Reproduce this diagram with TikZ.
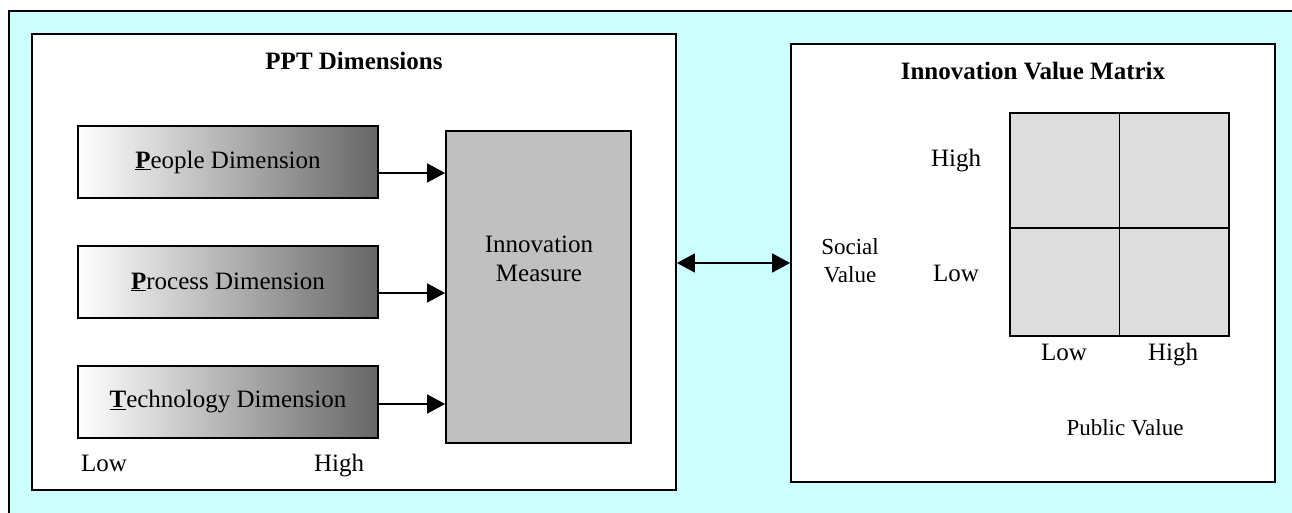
\documentclass[tikz,border=0pt]{standalone}
\usepackage{fontspec}
\setmainfont{Liberation Serif}
\usetikzlibrary{arrows.meta}
\definecolor{bgcyan}{RGB}{204,255,255}
\definecolor{measuregray}{RGB}{192,192,192}
\definecolor{cellgray}{RGB}{221,221,221}
\definecolor{graddark}{RGB}{102,102,102}
\tikzset{
  frame/.style={draw=black, line width=1.8pt, fill=white},
  dimbox/.style={draw=black, line width=1.8pt, left color=white, right color=graddark,
    minimum width=300pt, minimum height=72pt, inner sep=0pt,
    font=\fontsize{25}{29}\selectfont},
  cell/.style={draw=black, line width=1.8pt, fill=cellgray},
  lbl/.style={inner sep=0pt, text height=17pt, text depth=5pt, font=\fontsize{25}{29}\selectfont},
  mlbl/.style={inner sep=0pt, align=center, font=\fontsize{25}{29}\selectfont},
  slbl/.style={inner sep=0pt, align=center, font=\fontsize{23}{28}\selectfont},
  ttl/.style={inner sep=0pt, text height=17pt, text depth=5pt, font=\fontsize{25}{29}\selectfont\bfseries},
  arr/.style={line width=1.6pt, -{Triangle[length=18pt,width=19pt]}},
  darr/.style={line width=1.6pt, {Triangle[length=18pt,width=19pt]}-{Triangle[length=18pt,width=19pt]}},
}
\newcommand{\ul}[1]{\underline{\textbf{#1}}}
\begin{document}
\begin{tikzpicture}[x=1pt,y=-1pt]
\useasboundingbox (0,0) rectangle (1292,513);
% outer background
\fill[bgcyan] (9,11) rectangle (1292,513);
\draw[line width=1.8pt] (9,513) -- (9,11) -- (1292,11);
% left panel
\node[frame, minimum width=644pt, minimum height=456pt, inner sep=0pt] (left) at (354,262) {};
\node[ttl] (ppt) at (354,64) {PPT Dimensions};
\node[dimbox] (people) at (228,162) {\ul{P}eople Dimension};
\node[dimbox] (process) at (228,282) {\ul{P}rocess Dimension};
\node[dimbox] (tech) at (228,402) {\ul{T}echnology Dimension};
\node[draw=black, line width=1.8pt, fill=measuregray, minimum width=185pt, minimum height=312pt, inner sep=0pt] (measure) at (538.5,287) {};
\node[mlbl] (measuretxt) at (539,259) {Innovation\\Measure};
\node[lbl] (low1) at (104,465) {Low};
\node[lbl] (high1) at (339,465) {High};
\draw[arr] ([yshift=-11pt]people.east) -- ([yshift=-11pt]people.east -| measure.west);
\draw[arr] ([yshift=-11pt]process.east) -- ([yshift=-11pt]process.east -| measure.west);
\draw[arr] ([yshift=-2pt]tech.east) -- ([yshift=-2pt]tech.east -| measure.west);
% right panel
\node[frame, minimum width=484pt, minimum height=438pt, inner sep=0pt] (right) at (1033,263) {};
\node[ttl] (ivm) at (1033,74) {Innovation Value Matrix};
\draw[cell] (1010,113) rectangle (1119.5,228);
\draw[cell] (1119.5,113) rectangle (1229,228);
\draw[cell] (1010,228) rectangle (1119.5,336);
\draw[cell] (1119.5,228) rectangle (1229,336);
\node[lbl] (high2) at (956,161) {High};
\node[lbl] (low2) at (956,275) {Low};
\node[slbl] (social) at (850,261) {Social\\Value};
\node[lbl] (low3) at (1064,354) {Low};
\node[lbl] (high3) at (1173,354) {High};
\node[slbl] (public) at (1125,428) {Public Value};
% connector
\draw[darr] (left.east |- 0,263) -- (right.west |- 0,263);
\end{tikzpicture}
\end{document}
